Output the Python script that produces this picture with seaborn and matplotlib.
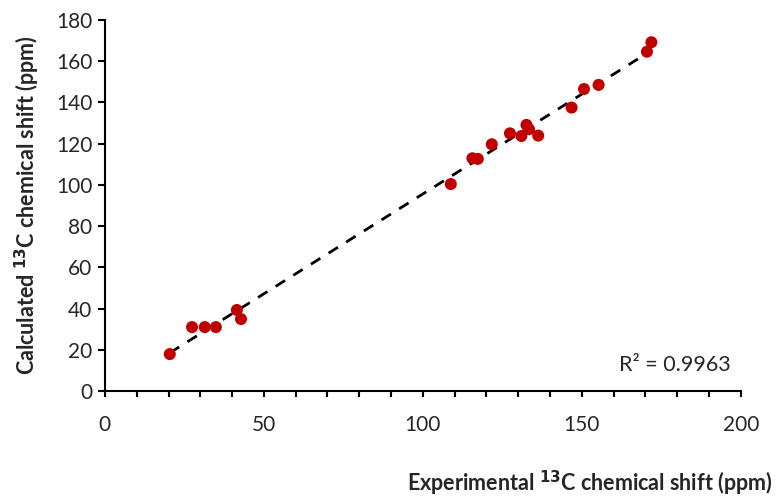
import numpy as np
import pandas as pd
import matplotlib
matplotlib.use("Agg")
import matplotlib.pyplot as plt
import seaborn as sns
from matplotlib.ticker import MultipleLocator

# experimental vs calculated 13C shifts (ppm)
experimental = [20.4, 27.4, 31.4, 34.9, 41.5, 42.8, 108.8, 115.6, 117.3,
                121.7, 127.4, 131.0, 132.6, 133.4, 136.3, 146.8, 150.7,
                155.3, 170.5, 171.9]
calculated = [17.9, 31.0, 31.0, 31.0, 39.3, 34.9, 100.4, 112.9, 112.6,
              119.7, 125.0, 123.7, 129.1, 127.0, 123.9, 137.5, 146.5,
              148.5, 164.6, 169.2]
r2_label = "R² = 0.9963"

df = pd.DataFrame({"exp": experimental, "calc": calculated})

sns.set_style("white")
plt.rcParams["font.family"] = ["Lato", "DejaVu Sans"]

fig = plt.figure(figsize=(7.83, 4.97), dpi=100)
ax = fig.add_axes([0.134, 0.2133, 0.812, 0.7465])

sns.scatterplot(data=df, x="exp", y="calc", ax=ax, color="#C00000",
                s=75, edgecolor="none", zorder=3)

# linear trendline
z = np.polyfit(df["exp"], df["calc"], 1)
xs = np.array([df["exp"].min(), df["exp"].max()])
ax.plot(xs, np.poly1d(z)(xs), "k--", lw=2, dashes=(4, 3.5), zorder=2)

ax.set_xlim(0, 200)
ax.set_ylim(0, 180)
ax.xaxis.set_major_locator(MultipleLocator(50))
ax.xaxis.set_minor_locator(MultipleLocator(10))
ax.yaxis.set_major_locator(MultipleLocator(20))
ax.tick_params(axis="both", which="both", direction="out", length=4,
               width=1.5, color="black", labelsize=15)
ax.tick_params(axis="x", which="both", bottom=True, pad=13)
ax.tick_params(axis="y", which="both", left=True, length=5, pad=4)

sns.despine(ax=ax)
for side in ["left", "bottom"]:
    ax.spines[side].set_color("black")
    ax.spines[side].set_linewidth(1.5)

ax.set_xlabel("")
ax.set_ylabel("Calculated $^{\\mathbf{13}}$C chemical shift (ppm)",
              fontsize=15.5, fontweight="bold", labelpad=10)
fig.text(0.753, 0.028, "Experimental $^{\\mathbf{13}}$C chemical shift (ppm)",
         ha="center", va="center", fontsize=15.5, fontweight="bold")

ax.text(0.808, 0.07, r2_label, transform=ax.transAxes, fontsize=15.5,
        ha="left", va="center")

fig.savefig("out.png", dpi=100)
